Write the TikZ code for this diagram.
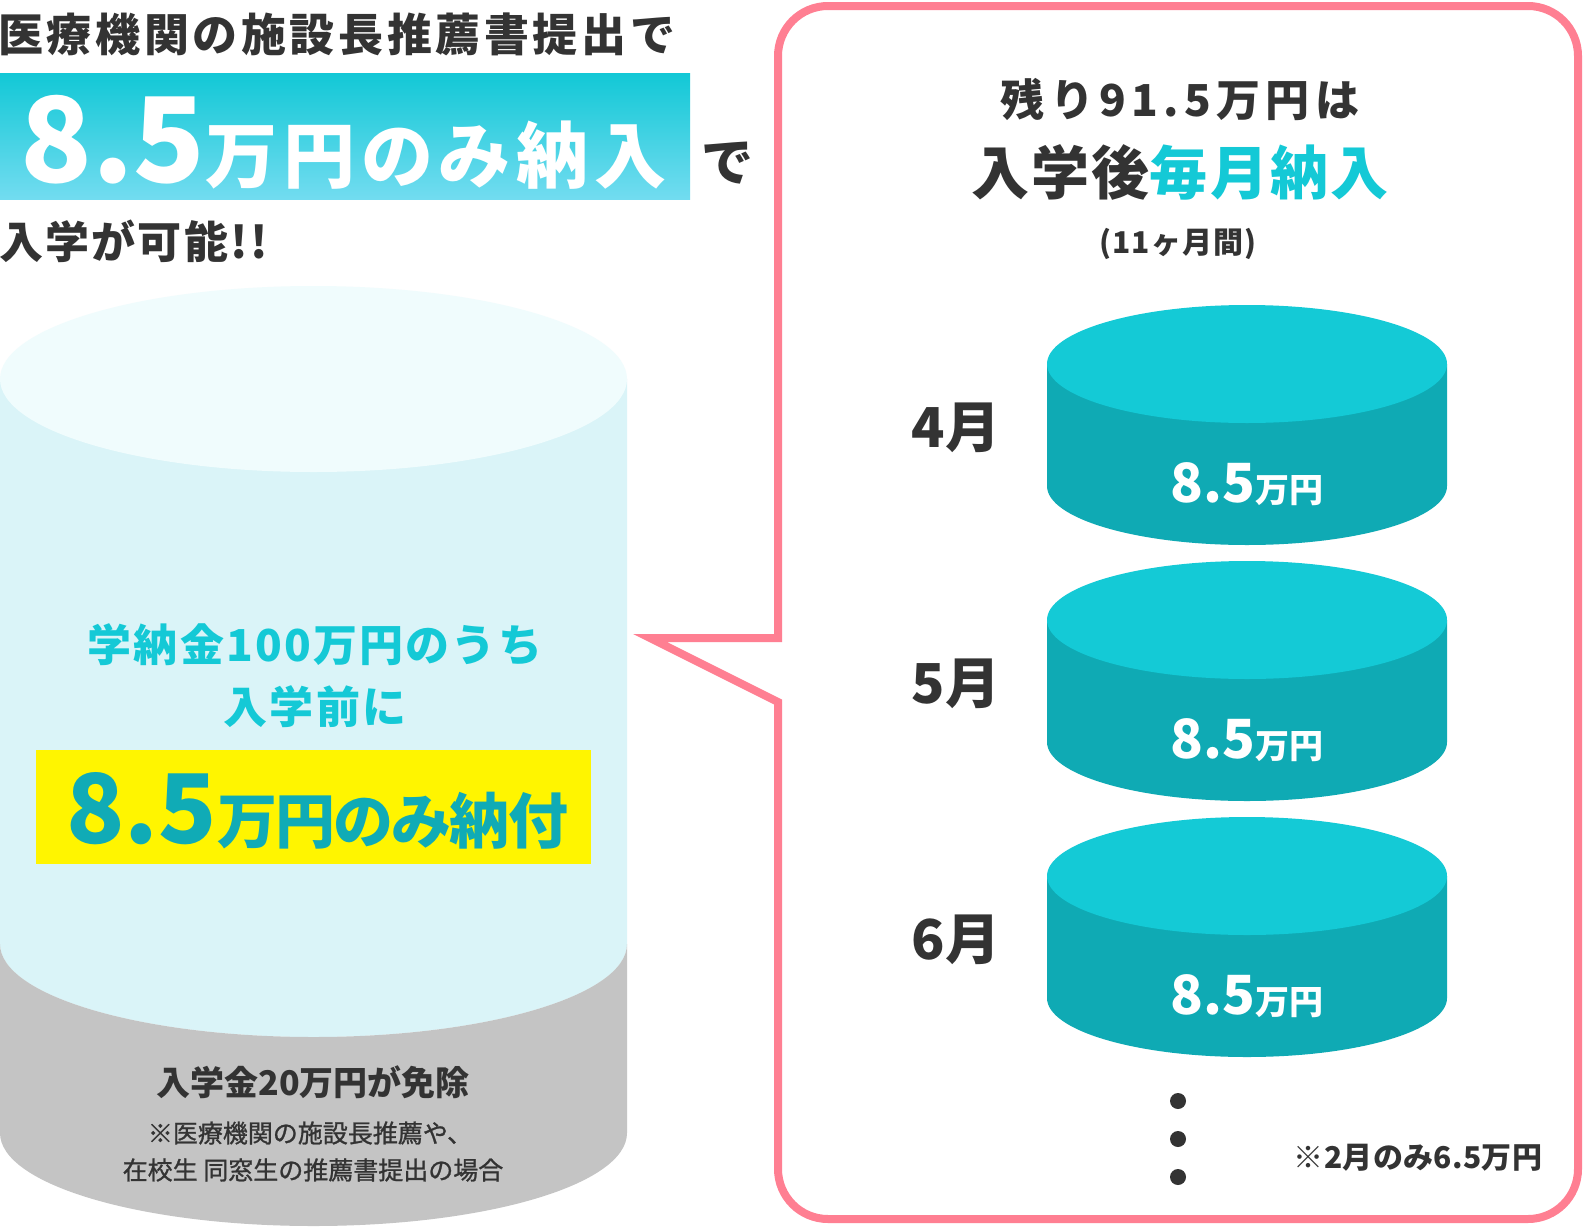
\documentclass[tikz,border=0pt]{standalone}
\usepackage{fontspec}
\setmainfont{Noto Sans CJK JP}
\definecolor{dark}{HTML}{333333}
\definecolor{cyanT}{HTML}{14C9D6}
\definecolor{tealT}{HTML}{10ABB6}
\definecolor{pinkL}{HTML}{FF7F92}
\definecolor{yellowB}{HTML}{FFF500}
\definecolor{grayC}{HTML}{C4C4C4}
\definecolor{bodyC}{HTML}{DAF4F8}
\definecolor{topC}{HTML}{F0FCFD}
\definecolor{banTop}{HTML}{12C8D6}
\definecolor{banBot}{HTML}{72DCF0}
\definecolor{diskTop}{HTML}{14CAD6}
\definecolor{diskSide}{HTML}{0FAAB4}
\newcommand\ls[1]{\addfontfeature{LetterSpace=#1}}
\begin{document}
\begin{tikzpicture}[x=0.5pt,y=-0.5pt,
  txt/.style={inner sep=0pt, font=\bfseries},
  disklabel/.style={txt, text=white, anchor=base},
  monthlabel/.style={txt, text=dark, font=\bfseries\fontsize{27.5pt}{27.5pt}\selectfont},
  dotmark/.style={circle, fill=dark, inner sep=0pt, minimum size=8pt}]
\useasboundingbox (0,0) rectangle (1584,1226);
\fill[white] (0,0) rectangle (1584,1226);

% ---------- left heading ----------
\node[txt, text=dark, anchor=west, font=\bfseries\fontsize{22.5pt}{22.5pt}\selectfont\ls{8}] (t1) at (-2,34) {医療機関の施設長推薦書提出で};
\shade[top color=banTop, bottom color=banBot] (0,73) rectangle (690,199);
\node[txt, text=white, anchor=base west] (t2) at (20,182)
  {{\fontsize{59pt}{59pt}\selectfont 8.5}{\fontsize{36pt}{36pt}\selectfont\ls{8}万円のみ納入}};
\node[txt, text=dark, font=\bfseries\fontsize{26pt}{26pt}\selectfont] (t3) at (727,163) {で};
\node[txt, text=dark, anchor=west, font=\bfseries\fontsize{22pt}{22pt}\selectfont\ls{5}] (t4) at (-1,241) {入学が可能!!};

% ---------- big cylinder ----------
\fill[bodyC] (0,379) -- (0,944) arc[start angle=180, end angle=0, x radius=313.5, y radius=93] -- (627,379) -- cycle;
\fill[grayC] (0,944) -- (0,1133) arc[start angle=180, end angle=0, x radius=313.5, y radius=93] -- (627,944) arc[start angle=0, end angle=180, x radius=313.5, y radius=93] -- cycle;
\fill[topC] (313.5,379) ellipse [x radius=313.5, y radius=93];

\node[txt, text=cyanT, font=\bfseries\fontsize{22pt}{22pt}\selectfont\ls{5}] (c1) at (315,645) {学納金100万円のうち};
\node[txt, text=cyanT, font=\bfseries\fontsize{22pt}{22pt}\selectfont\ls{5}] (c2) at (315,707) {入学前に};
\fill[yellowB] (36,750) rectangle (591,864);
\node[txt, text=tealT, anchor=base west] (c3) at (66,843)
  {{\fontsize{48pt}{48pt}\selectfont 8.5}{\fontsize{30pt}{30pt}\selectfont\ls{-3}万円のみ納付}};
\node[txt, text=dark, font=\bfseries\fontsize{17pt}{17pt}\selectfont] (g1) at (313,1082) {入学金20万円が免除};
\node[inner sep=0pt, text=dark, font=\fontsize{12.5pt}{12.5pt}\selectfont\addfontfeature{FakeBold=1}] (g2) at (310,1133) {※医療機関の施設長推薦や、};
\node[inner sep=0pt, text=dark, font=\fontsize{12.5pt}{12.5pt}\selectfont\addfontfeature{FakeBold=1}] (g3) at (313,1170) {在校生 同窓生の推薦書提出の場合};

% ---------- callout ----------
\draw[pinkL, line width=4pt, rounded corners=25pt, line join=miter]
  (778,702) -- (778,1219) -- (1578,1219) -- (1578,6) -- (778,6) -- (778,300) [sharp corners] -- (778,638) -- (650,638) -- cycle;

% ---------- right heading ----------
\node[txt, text=dark, font=\bfseries\fontsize{22pt}{22pt}\selectfont\ls{12}] (r1) at (1180,99) {残り91.5万円は};
\node[txt, font=\bfseries\fontsize{29pt}{29pt}\selectfont\ls{4}] (r2) at (1180,172) {\textcolor{dark}{入学後}\textcolor{cyanT}{毎月納入}};
\node[txt, text=dark, font=\bfseries\fontsize{15pt}{15pt}\selectfont\ls{4}] (r3) at (1178,244) {(11ヶ月間)};

% ---------- disks ----------
\foreach \c/\m/\n in {364/4/a, 620/5/b, 876/6/c}{
  \fill[diskSide] (1047,\c) -- (1047,\c+122) arc[start angle=180, end angle=0, x radius=200, y radius=59] -- (1447,\c) -- cycle;
  \fill[diskTop] (1247,\c) ellipse [x radius=200, y radius=59];
  \node[disklabel] (d\n) at (1247,\c+138) {{\fontsize{27pt}{27pt}\selectfont 8.5}{\fontsize{17pt}{17pt}\selectfont 万円}};
  \node[monthlabel] (m\n) at (956,\c+64) {\m 月};
}

\node[dotmark] (p1) at (1178,1101) {};
\node[dotmark] (p2) at (1178,1139) {};
\node[dotmark] (p3) at (1178,1177) {};
\node[txt, text=dark, font=\bfseries\fontsize{15pt}{15pt}\selectfont\ls{1}] (note) at (1418,1158) {※2月のみ6.5万円};
\end{tikzpicture}
\end{document}
